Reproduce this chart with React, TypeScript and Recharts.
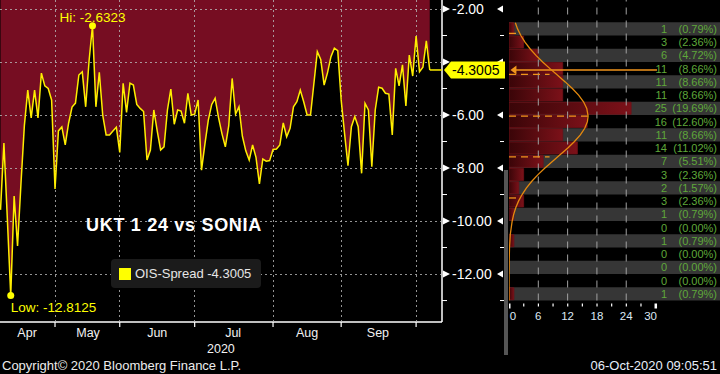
import {
  Area,
  Bar,
  BarChart,
  ComposedChart,
  Legend,
  Line,
  ReferenceArea,
  ReferenceDot,
  ReferenceLine,
  Scatter,
  ScatterChart,
  XAxis,
  YAxis,
} from 'recharts';

const FONT = '"Liberation Sans", Arial, sans-serif';

// OIS spread, one value per UK business day, Apr 2020 .. 6 Oct 2020
const spread = [
  -9.58, -7.06, -9.9, -12.8125, -9.06, -10.94, -8.6, -6.4, -5.06, -6.11,
  -5.06, -6.11, -4.42, -4.9, -5.0, -5.43, -8.79, -6.6, -6.45, -7.13,
  -6.3, -5.7, -5.55, -4.49, -4.37, -5.69, -3.95, -2.6323, -5.69, -4.39,
  -6.0, -6.75, -6.75, -6.6, -6.46, -7.41, -4.8, -5.9, -4.8, -4.87,
  -5.6, -5.75, -5.87, -7.7, -7.32, -5.81, -6.6, -7.32, -7.2, -5.81,
  -5.02, -6.35, -5.81, -5.85, -6.31, -5.18, -6.0, -5.97, -5.43, -8.08,
  -7.1, -6.19, -5.6, -5.37, -6.1, -6.7, -7.2, -6.4, -4.62, -5.97,
  -5.69, -6.8, -7.35, -7.7, -7.13, -7.6, -8.6, -7.66, -7.74, -7.72,
  -7.3, -7.28, -7.13, -6.3, -6.82, -6.5, -5.69, -5.5, -5.06, -5.5,
  -6.0, -6.0, -4.8, -3.61, -3.9, -4.87, -4.4, -3.8, -3.48, -3.57,
  -5.43, -6.7, -7.91, -6.44, -6.06, -6.44, -8.2, -5.56, -5.81, -7.95,
  -5.81, -4.95, -4.99, -5.18, -5.21, -6.75, -4.24, -4.9, -4.11, -5.66,
  -3.74, -4.53, -3.02, -4.37, -4.2, -3.2, -4.3005,
];

const LAST = -4.3005;
const HI = -2.6323;
const HI_IDX = 27;
const LOW = -12.8125;
const LOW_IDX = 3;

const monthNames = ['Apr', 'May', 'Jun', 'Jul', 'Aug', 'Sep'];
const monthStarts = [16, 35, 57, 80, 100, 122];
const monthMids = [7.8, 25.7, 46, 68.3, 90, 110.8];
const priceTicks = [-2, -3, -4, -5, -6, -7, -8, -9, -10, -11, -12, -13];
const priceGrid = [-2, -4, -6, -8, -10, -12];

const X_MIN = -0.15;
const X_MAX = 129.6;
const Y_MIN = -13.81;
const Y_MAX = -1.66;

// distribution panel
const binTops = [
  '-2.5', '-3.0', '-3.5', '-4.0', '-4.5', '-5.0', '-5.5', '-6.0', '-6.5', '-7.0', '-7.5',
  '-8.0', '-8.5', '-9.0', '-9.5', '-10.0', '-10.5', '-11.0', '-11.5', '-12.0', '-12.5',
];
const binCounts = [1, 3, 6, 11, 11, 11, 25, 16, 11, 14, 7, 3, 2, 3, 1, 0, 1, 0, 0, 0, 1];
const binPcts = [
  '0.79%', '2.36%', '4.72%', '8.66%', '8.66%', '8.66%', '19.69%', '12.60%', '8.66%', '11.02%',
  '5.51%', '2.36%', '1.57%', '2.36%', '0.79%', '0.00%', '0.79%', '0.00%', '0.00%', '0.00%', '0.79%',
];
const countTicks = [0, 3, 6, 9, 12, 15, 18, 21, 24, 27, 30];
const countGrid = [6, 12, 18, 24];
const COUNT_MAX = 43.2;

// fitted normal curve
const curvePrices = [
  -2.52, -2.75, -3.0, -3.25, -3.5, -3.75, -4.0, -4.25, -4.5, -4.75, -5.0, -5.25, -5.5, -5.75,
  -6.04, -6.25, -6.5, -6.75, -7.0, -7.25, -7.5, -7.75, -8.0, -8.25, -8.5, -8.75, -9.0, -9.25,
  -9.5, -9.75, -10.0, -10.5, -11.0, -11.5, -12.0, -13.0,
];
const curveCounts = [
  1.3, 1.75, 2.43, 3.27, 4.31, 5.52, 6.89, 8.39, 9.95, 11.51, 12.97, 14.25, 15.26, 15.92,
  16.2, 16.05, 15.51, 14.61, 13.41, 11.99, 10.45, 8.88, 7.36, 5.94, 4.67, 3.58, 2.68, 1.95,
  1.38, 0.96, 0.65, 0.27, 0.1, 0.04, 0.01, 0.0,
];
const sdLevels = [-2.92, -4.47, -6.04, -7.58, -9.13];
const sdLengths = [1.6, 8.3, 16.2, 8.3, 1.6];

const ORANGE = '#f0951c';
const GRID = {
  stroke: '#b8b8b8',
  strokeOpacity: 0.8,
  strokeDasharray: '2 3',
  shapeRendering: 'crispEdges',
};

const rows: Record<string, unknown>[] = spread.map((v, i) => ({
  i,
  v,
  band: [v, Y_MAX],
  ext: i === spread.length - 1 ? v : undefined,
}));
rows.push({ i: X_MAX, ext: LAST });

const histRows = binTops.map((bin, k) => ({ bin, count: binCounts[k] }));
const curveRows = curvePrices.map((y, k) => ({ x: curveCounts[k], y }));

function MonthTick(props: any) {
  const { x, y, payload } = props;
  const k = monthMids.indexOf(payload.value);
  if (k >= 0) {
    return (
      <text x={x} y={y + 15} textAnchor="middle" fill="#f2f2f2" fontSize={12.5}>
        {monthNames[k]}
      </text>
    );
  }
  return <line x1={x} x2={x} y1={y} y2={y + 5} stroke="#fff" strokeWidth={1.2} />;
}

function PriceTick(props: any) {
  const { x, y, payload } = props;
  const v = payload.value as number;
  if (v % 2 !== 0) {
    return (
      <g>
        <line x1={x} x2={x + 5} y1={y} y2={y} stroke="#fff" />
        <line x1={x + 58} x2={x + 62} y1={y} y2={y} stroke="#fff" />
      </g>
    );
  }
  // the label under the last-value tag is hidden, as on the terminal
  const covered = Math.abs(v - LAST) < 0.6;
  return (
    <g>
      <polygon points={`${x + 1},${y - 3.5} ${x + 1},${y + 3.5} ${x + 8},${y}`} fill="#fff" />
      {!covered && (
        <text x={x + 10} y={y + 5} fill="#fff" fontSize={14}>
          {v.toFixed(2)}
        </text>
      )}
      <polygon points={`${x + 55},${y} ${x + 61},${y - 3.5} ${x + 61},${y + 3.5}`} fill="#fff" />
    </g>
  );
}

function CountTick(props: any) {
  const { x, y, payload } = props;
  const v = payload.value as number;
  const big = v === 0 || v === 30;
  const dx = v === 0 ? 4 : v === 30 ? -5 : 0;
  return (
    <g>
      <rect x={x - (big ? 1 : 0.5)} y={y + 3} width={big ? 2.5 : 1.2} height={big ? 5 : 3} fill="#fff" />
      {v % 6 === 0 && (
        <text x={x + dx} y={y + 19.5} textAnchor="middle" fill="#dde8f4" fontSize={11.5}>
          {v}
        </text>
      )}
    </g>
  );
}

// count and share for each bin, drawn by the mirrored right axis
function BinTick(props: any) {
  const { y, payload } = props;
  const k = binTops.indexOf(String(payload.value));
  if (k < 0) return <g />;
  return (
    <g>
      <text x={158} y={y + 4} textAnchor="end" fill="#5fa83a" fontSize={11}>
        {binCounts[k]}
      </text>
      <text x={208} y={y + 4} textAnchor="end" fill="#5fa83a" fontSize={11}>
        ({binPcts[k]})
      </text>
    </g>
  );
}

const HiMark = (p: any) => (
  <g>
    <circle cx={p.cx} cy={p.cy} r={3.5} fill="#ffff00" />
    <text x={p.cx} y={p.cy - 4} textAnchor="middle" fill="#ffff00" fontSize={13.5}>
      {`Hi: ${HI}`}
    </text>
  </g>
);

const LowMark = (p: any) => (
  <g>
    <circle cx={p.cx} cy={p.cy} r={3.5} fill="#ffff00" />
    <text x={p.cx} y={p.cy + 16.4} fill="#ffff00" fontSize={13.5}>
      {`Low: ${LOW}`}
    </text>
  </g>
);

const LastTag = (p: any) => {
  const { cx, cy } = p;
  return (
    <g>
      <polygon
        points={`${cx + 2},${cy} ${cx + 9},${cy - 8.5} ${cx + 63},${cy - 8.5} ${cx + 63},${cy + 8.5} ${cx + 9},${cy + 8.5}`}
        fill="#ffff00"
      />
      <text x={cx + 10} y={cy + 5} fill="#000" fontSize={14}>
        {String(LAST)}
      </text>
    </g>
  );
};

const ArrowHead = (p: any) => (
  <polygon points={`${p.cx},${p.cy} ${p.cx + 6},${p.cy - 4.5} ${p.cx + 6},${p.cy + 4.5}`} fill={ORANGE} />
);

export default function App() {
  return (
    <div
      style={{
        position: 'absolute',
        left: 0,
        top: 0,
        width: 720,
        height: 374,
        background: '#000',
        overflow: 'hidden',
        fontFamily: FONT,
      }}
    >
      <div style={{ position: 'absolute', left: 0, top: 0 }}>
        <ComposedChart width={510} height={374} data={rows} margin={{ top: 0, right: 0, bottom: 0, left: 0 }}>
          <XAxis
            dataKey="i"
            type="number"
            domain={[X_MIN, X_MAX]}
            ticks={[...monthStarts, ...monthMids]}
            interval={0}
            height={52}
            tickSize={0}
            tickMargin={0}
            tickLine={false}
            axisLine={{ stroke: '#fff', strokeWidth: 1.5 }}
            tick={MonthTick}
            allowDataOverflow
          />
          <YAxis
            orientation="right"
            type="number"
            domain={[Y_MIN, Y_MAX]}
            ticks={priceTicks}
            interval={0}
            width={68}
            tickSize={0}
            tickMargin={0}
            tickLine={false}
            axisLine={{ stroke: '#fff', strokeWidth: 1.5 }}
            tick={PriceTick}
            allowDataOverflow
          />
          <Area
            dataKey="band"
            type="linear"
            stroke="none"
            fill="#760d22"
            fillOpacity={1}
            activeDot={false}
            isAnimationActive={false}
          />
        </ComposedChart>
      </div>

      {/* dotted grid on top of the red fill */}
      <div style={{ position: 'absolute', left: 0, top: 0 }}>
        <ComposedChart width={510} height={374} data={rows} margin={{ top: 0, right: 68, bottom: 52, left: 0 }}>
          <XAxis dataKey="i" type="number" domain={[X_MIN, X_MAX]} hide allowDataOverflow />
          <YAxis type="number" domain={[Y_MIN, Y_MAX]} hide allowDataOverflow />
          {priceGrid.map((v) => (
            <ReferenceLine key={`gy${v}`} y={v} {...GRID} ifOverflow="visible" />
          ))}
          {monthStarts.map((m) => (
            <ReferenceLine key={`gx${m}`} x={m} {...GRID} ifOverflow="visible" />
          ))}
        </ComposedChart>
      </div>

      {/* series, markers and legend */}
      <div style={{ position: 'absolute', left: 0, top: 0 }}>
        <ComposedChart width={510} height={374} data={rows} margin={{ top: 0, right: 68, bottom: 52, left: 0 }}>
          <XAxis dataKey="i" type="number" domain={[X_MIN, X_MAX]} hide allowDataOverflow />
          <YAxis type="number" domain={[Y_MIN, Y_MAX]} hide allowDataOverflow />
          <Line
            dataKey="v"
            type="linear"
            stroke="#ffee00"
            strokeWidth={1.5}
            dot={false}
            activeDot={false}
            isAnimationActive={false}
          />
          <Line
            dataKey="ext"
            type="linear"
            stroke="#ffee00"
            strokeWidth={1.5}
            dot={false}
            activeDot={false}
            isAnimationActive={false}
          />
          <ReferenceDot x={HI_IDX} y={HI} shape={HiMark} ifOverflow="visible" />
          <ReferenceDot x={LOW_IDX} y={LOW} shape={LowMark} ifOverflow="visible" />
          <ReferenceDot x={X_MAX} y={LAST} shape={LastTag} ifOverflow="visible" />
          <Legend
            layout="horizontal"
            verticalAlign="middle"
            align="center"
            wrapperStyle={{ left: 111, top: 259, width: 150, height: 29 }}
            content={() => (
              <div
                style={{
                  width: 150,
                  height: 29,
                  background: '#1b1b1b',
                  borderRadius: 4,
                  display: 'flex',
                  alignItems: 'center',
                  fontFamily: FONT,
                }}
              >
                <span style={{ width: 12, height: 12, background: '#ffff00', marginLeft: 8, marginRight: 4 }} />
                <span style={{ color: '#e6e6e6', fontSize: 13 }}>{`OIS-Spread ${LAST}`}</span>
              </div>
            )}
          />
        </ComposedChart>
      </div>

      <div style={{ position: 'absolute', left: 504, top: 170, width: 4, height: 185, background: '#555' }} />

      <div style={{ position: 'absolute', left: 509, top: 0 }}>
        <BarChart
          layout="vertical"
          width={211}
          height={374}
          data={histRows}
          margin={{ top: 0, right: 0, bottom: 53.5, left: 0 }}
          barCategoryGap={0.5}
        >
          <defs>
            <linearGradient id="barGrad" x1="0" y1="0" x2="1" y2="0">
              <stop offset="0%" stopColor="#3a0508" />
              <stop offset="100%" stopColor="#7c1119" />
            </linearGradient>
          </defs>
          <XAxis
            type="number"
            domain={[0, COUNT_MAX]}
            ticks={countTicks}
            interval={0}
            height={20}
            tickSize={0}
            tickMargin={0}
            tickLine={false}
            axisLine={false}
            tick={CountTick}
            allowDataOverflow
          />
          <YAxis
            type="category"
            dataKey="bin"
            orientation="right"
            mirror
            axisLine={false}
            tickLine={false}
            tickSize={0}
            tickMargin={0}
            interval={0}
            tick={BinTick}
            padding={{ top: 22.25, bottom: 0 }}
          />
          {binTops.map((bin, k) =>
            k % 2 === 0 ? (
              <ReferenceArea
                key={`row${bin}`}
                y1={bin}
                y2={bin}
                x1={0}
                x2={COUNT_MAX}
                fill="#363636"
                fillOpacity={1}
                stroke="none"
              />
            ) : null,
          )}
          {countGrid.map((c) => (
            <ReferenceLine key={`cg${c}`} x={c} stroke="#a0a0a0" strokeDasharray="7 6" />
          ))}
          <Bar dataKey="count" fill="url(#barGrad)" stroke="#6e1016" strokeWidth={0.8} isAnimationActive={false} />
        </BarChart>
      </div>

      <div style={{ position: 'absolute', left: 509, top: 0 }}>
        <ScatterChart width={211} height={374} margin={{ top: 0, right: 0, bottom: 52, left: 0 }}>
          <XAxis type="number" dataKey="x" domain={[0, COUNT_MAX]} hide allowDataOverflow />
          <YAxis type="number" dataKey="y" domain={[Y_MIN, Y_MAX]} hide allowDataOverflow />
          {sdLevels.map((lv, k) => (
            <ReferenceLine
              key={`sd${lv}`}
              segment={[
                { x: 0, y: lv },
                { x: sdLengths[k], y: lv },
              ]}
              stroke={ORANGE}
              strokeWidth={1.3}
              strokeDasharray="7 5"
            />
          ))}
          <Scatter
            data={curveRows}
            line={{ stroke: '#e68a0e', strokeWidth: 1.3 }}
            lineType="joint"
            shape={() => <g />}
            isAnimationActive={false}
          />
          <ReferenceLine
            segment={[
              { x: 0.8, y: LAST },
              { x: 30.3, y: LAST },
            ]}
            stroke={ORANGE}
            strokeWidth={1.3}
          />
          <ReferenceDot x={0.3} y={LAST} shape={ArrowHead} ifOverflow="visible" />
        </ScatterChart>
      </div>

      <svg
        width={720}
        height={374}
        style={{ position: 'absolute', left: 0, top: 0, pointerEvents: 'none', fontFamily: FONT }}
      >
        <text x={86} y={231} fill="#fff" fontSize={18} fontWeight="bold" letterSpacing={0.7}>
          UKT 1 24 vs SONIA
        </text>
        <text x={207} y={353} fill="#f2f2f2" fontSize={12.5}>
          2020
        </text>
        <text x={2} y={370} fill="#ececec" fontSize={13}>
          Copyright© 2020 Bloomberg Finance L.P.
        </text>
        <text x={717} y={370} textAnchor="end" fill="#e6eefa" fontSize={13}>
          06-Oct-2020 09:05:51
        </text>
      </svg>
    </div>
  );
}
